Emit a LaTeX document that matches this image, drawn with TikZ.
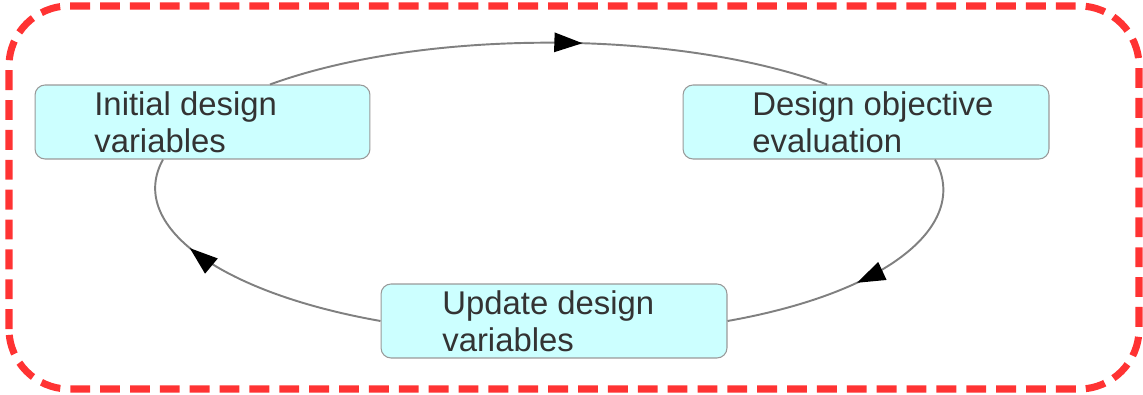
\documentclass[tikz,border=0pt]{standalone}
\usepackage{fontspec}
\setmainfont{Liberation Sans}
\usetikzlibrary{arrows.meta,calc,decorations.markings}
\definecolor{boxfill}{HTML}{CCFFFF}
\definecolor{boxline}{HTML}{999999}
\definecolor{loopred}{HTML}{FF3333}
\definecolor{txt}{HTML}{333333}
\definecolor{flowgray}{HTML}{808080}

\begin{document}
\begin{tikzpicture}[x=0.02cm,y=0.02cm,
  stage/.style={draw=boxline,fill=boxfill,rounded corners=0.2cm,line width=0.6pt,minimum height=1.48cm,inner sep=0pt},
  caption/.style={anchor=west,inner sep=0pt,align=left,text=txt,font=\fontsize{18.7}{21}\selectfont},
  flow/.style={draw=flowgray,line width=1.1pt,postaction={decorate},
    decoration={markings,mark=at position #1 with {\arrow{Triangle[length=16pt,width=11pt,color=black]}}}}]
\useasboundingbox (0,0) rectangle (1143,395);
\draw[loopred,line width=4pt,dash pattern=on 11.3pt off 5.7pt,rounded corners=1.2cm] (9,6) rectangle (1139,389);
% the three steps of the loop
\node[stage,minimum width=6.7cm] (init) at (202.5,273) {};
\node[stage,minimum width=7.32cm] (eval) at (866,273) {};
\node[stage,minimum width=6.92cm] (upd) at (554,74) {};
\node[caption] (initText) at (94,273) {Initial design\\variables};
\node[caption] (evalText) at (752,273) {Design objective\\evaluation};
\node[caption] (updText) at (442,74) {Update design\\variables};
% arcs round the loop
\draw[flow=0.56] ($(init.north)+(67.5,0)$) to[out=20,in=160,looseness=0.75] ($(eval.north)+(-39,0)$);
\draw[flow=0.55] ($(eval.south)+(69,0)$) to[out=-61,in=10,out looseness=0.72,in looseness=1.59] (upd.east);
\draw[flow=0.67] (upd.west) to[out=170,in=-119,out looseness=1.57,in looseness=0.70] ($(init.south)+(-39.5,0)$);
\end{tikzpicture}
\end{document}
